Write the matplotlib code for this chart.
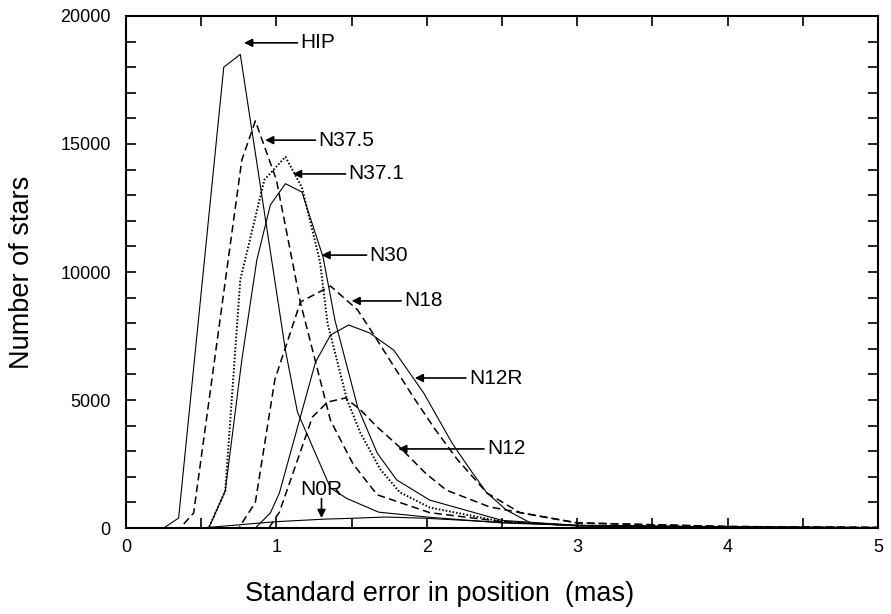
import matplotlib
matplotlib.use('Agg')
import matplotlib.pyplot as plt
from matplotlib.ticker import MultipleLocator, NullFormatter

plt.rcParams['font.family'] = ['Liberation Sans', 'DejaVu Sans']

# ── Data ───────────────────────────────────────────────────────────
hip_x = [0, 0.25, 0.35, 0.65, 0.76, 1.06, 1.14, 1.36, 1.47, 1.68, 2.0, 2.5, 3.0, 4.0, 5.0]
hip_y = [0, 0, 390, 18000, 18500, 6950, 4530, 1560, 1150, 620, 430, 200, 100, 40, 15]

n375_x = [0, 0.36, 0.45, 0.77, 0.86, 1.0, 1.16, 1.36, 1.51, 1.67, 2.02, 2.5, 3.0, 4.0, 5.0]
n375_y = [0, 0, 590, 14370, 15900, 13600, 8800, 4200, 2500, 1300, 600, 250, 100, 40, 15]

n371_x = [0, 0.55, 0.66, 0.76, 0.92, 1.06, 1.17, 1.29, 1.34, 1.47, 1.56, 1.69, 1.82, 2.02, 2.5, 3.0, 4.0, 5.0]
n371_y = [0, 0, 1450, 9700, 13600, 14500, 13300, 10400, 8000, 5000, 3700, 2300, 1400, 800, 250, 100, 40, 15]

n30_x = [0, 0.55, 0.66, 0.77, 0.87, 0.96, 1.06, 1.17, 1.31, 1.39, 1.54, 1.67, 1.80, 2.02, 2.5, 3.0, 4.0, 5.0]
n30_y = [0, 0, 1450, 6560, 10470, 12620, 13450, 13120, 10590, 8100, 4730, 2930, 1880, 1090, 300, 100, 40, 15]

n18_x = [0, 0.75, 0.86, 0.99, 1.16, 1.36, 1.54, 1.64, 1.91, 2.05, 2.2, 2.40, 2.62, 3.0, 4.0, 5.0]
n18_y = [0, 0, 1000, 5800, 8830, 9450, 8520, 7620, 5120, 3900, 2700, 1370, 600, 200, 60, 20]

n12r_x = [0, 0.86, 0.96, 1.02, 1.26, 1.36, 1.48, 1.62, 1.78, 1.98, 2.17, 2.29, 2.40, 2.53, 2.69, 3.0, 4.0, 5.0]
n12r_y = [0, 0, 590, 1370, 6480, 7540, 7930, 7620, 6950, 5270, 3300, 2270, 1370, 700, 200, 80, 30, 10]

n12_x = [0, 0.95, 1.02, 1.24, 1.34, 1.46, 1.56, 1.67, 1.82, 1.99, 2.13, 2.42, 3.0, 4.0, 5.0]
n12_y = [0, 0, 620, 4340, 4920, 5080, 4610, 3950, 3160, 2150, 1480, 820, 200, 60, 20]

n0r_x = [0, 0.5, 0.8, 1.0, 1.33, 1.5, 1.73, 2.0, 2.5, 3.0, 4.0, 5.0]
n0r_y = [0, 0, 150, 250, 350, 380, 430, 380, 220, 100, 40, 15]

# label, arrow tip (x, y), text position (x, y)
labels = ['HIP', 'N37.5', 'N37.1', 'N30', 'N18', 'N12R', 'N12']
tips = [(0.785, 18950), (0.925, 15150), (1.11, 13830), (1.30, 10660),
        (1.50, 8870), (1.92, 5860), (1.81, 3090)]
texts = [(1.16, 18950), (1.28, 15150), (1.48, 13830), (1.62, 10660),
         (1.85, 8870), (2.28, 5860), (2.40, 3090)]

# ── Figure ─────────────────────────────────────────────────────────
fig = plt.figure(figsize=(8.91, 6.14), dpi=100, facecolor='white')
ax = fig.add_axes([0.1414, 0.140, 0.8440, 0.834])

solid = dict(color='black', lw=0.8, linestyle='-')
dash = dict(color='black', lw=1.1, linestyle=(0, (5, 2.8)))
dots = dict(color='black', lw=1.4, linestyle=(0, (0.8, 1.0)))

ax.plot(hip_x, hip_y, **solid)
ax.plot(n375_x, n375_y, **dash)
ax.plot(n371_x, n371_y, **dots)
ax.plot(n30_x, n30_y, **solid)
ax.plot(n18_x, n18_y, **dash)
ax.plot(n12r_x, n12r_y, **solid)
ax.plot(n12_x, n12_y, **dash)
ax.plot(n0r_x, n0r_y, **solid)

arrow = dict(arrowstyle='-|>', color='black', lw=1.2, mutation_scale=12,
             shrinkA=0, shrinkB=0)
for lab, tip, tp in zip(labels, tips, texts):
    ax.annotate('', xy=tip, xytext=(tp[0] - 0.02, tp[1]), arrowprops=arrow)
    ax.text(tp[0], tp[1], lab, fontsize=15, ha='left', va='center')

# N0R: label above, arrow pointing down
ax.annotate('', xy=(1.30, 390), xytext=(1.30, 1150), arrowprops=arrow)
ax.text(1.30, 1500, 'N0R', fontsize=15, ha='center', va='center')

# ── Axes styling ───────────────────────────────────────────────────
ax.set_xlim(0, 5)
ax.set_ylim(0, 20000)
ax.xaxis.set_major_locator(MultipleLocator(1))
ax.xaxis.set_minor_locator(MultipleLocator(0.5))
ax.yaxis.set_major_locator(MultipleLocator(5000))
ax.yaxis.set_minor_locator(MultipleLocator(1000))
ax.xaxis.set_minor_formatter(NullFormatter())
ax.tick_params(which='both', direction='in', top=True, right=True,
               length=7, width=1.2, labelsize=13)
ax.tick_params(axis='x', pad=8)
ax.tick_params(axis='y', pad=11)
for spine in ax.spines.values():
    spine.set_linewidth(1.5)

ax.set_xlabel('Standard error in position  (mas)', fontsize=19.5)
ax.xaxis.set_label_coords(0.4176, -0.104)
ax.set_ylabel('Number of stars', fontsize=19.5, labelpad=18)

plt.savefig('out.png', dpi=100, facecolor='white')
plt.close()
